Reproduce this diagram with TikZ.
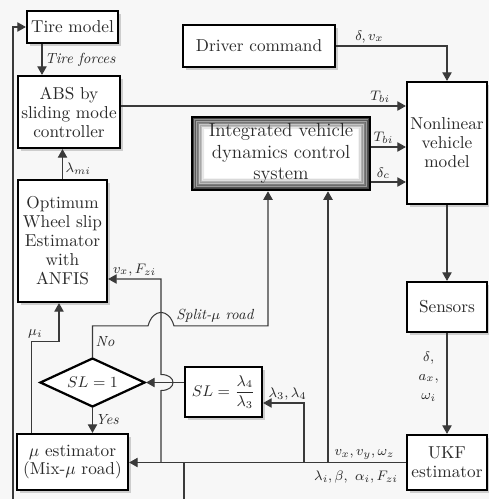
\documentclass[tikz,border=0pt]{standalone}
\usepackage{amsmath}
\usepackage{tikz}
\usetikzlibrary{arrows.meta, positioning, calc, shapes.geometric, shadows}
\definecolor{canvasgray}{HTML}{F7F7F7}
\definecolor{inkgray}{HTML}{2A2A2A}
\definecolor{wiregray}{HTML}{3A3A3A}
\newcommand{\pxu}{0.58pt}

\tikzset{
  blockbox/.style={draw=black, line width=1.3pt, fill=white, align=center, inner sep=1pt,
    text=inkgray, font=\fontsize{10}{11}\selectfont,
    drop shadow={shadow xshift=1.5pt, shadow yshift=-1.5pt, opacity=0.35}},
  glowbox/.style={draw=black, line width=1.5pt, fill=white, align=center, inner sep=1pt,
    text=inkgray, font=\fontsize{11}{12.6}\selectfont,
    path picture={
      \foreach \k [evaluate=\k as \op using 0.55-0.027*\k] in {1,...,20}
        \draw[black, opacity=\op, line width=0.38pt]
          ([xshift=\k*0.35pt, yshift=\k*0.35pt]path picture bounding box.south west) rectangle
          ([xshift=-\k*0.35pt, yshift=-\k*0.35pt]path picture bounding box.north east);
    }},
  decision/.style={diamond, draw=black, line width=1.3pt, fill=white, inner sep=0pt, aspect=2.1,
    text=inkgray, font=\small},
  lbl/.style={font=\fontsize{8.5}{11}\selectfont, text=inkgray, inner sep=1.5pt},
  wire/.style={draw=wiregray, line width=0.6pt},
  arr/.style={wire, -{Triangle[length=5pt, width=5.5pt]}}
}

\begin{document}
\begin{tikzpicture}[x=\pxu, y=-\pxu]
    \useasboundingbox (0,0) rectangle (489,499);
    \fill[canvasgray] (0,0) rectangle (489,499);

    % Blocks
    \node[blockbox, minimum width=91*\pxu, minimum height=32*\pxu] (tire) at (72.5,27) {Tire model};
    \node[blockbox, minimum width=102*\pxu, minimum height=72*\pxu] (abs) at (69,112) {ABS by\\sliding mode\\controller};
    \node[blockbox, minimum width=89*\pxu, minimum height=122*\pxu] (optimum) at (62.5,241) {Optimum\\Wheel slip\\Estimator\\with\\ANFIS};
    \node[blockbox, minimum width=152*\pxu, minimum height=42*\pxu] (driver) at (259,46) {Driver command};
    \node[blockbox, minimum width=80*\pxu, minimum height=122*\pxu] (nonlin) at (447,143) {Nonlinear\\vehicle\\model};
    \node[glowbox, minimum width=178*\pxu, minimum height=73*\pxu] (integ) at (281,153.5) {Integrated vehicle\\dynamics control\\system};
    \node[blockbox, minimum width=80*\pxu, minimum height=50*\pxu] (sensors) at (447,307) {Sensors};
    \node[blockbox, minimum width=80*\pxu, minimum height=55*\pxu] (ukf) at (447,462.5) {UKF\\estimator};
    \node[blockbox, minimum width=111*\pxu, minimum height=56*\pxu] (muest) at (72.5,462) {$\mu$ estimator\\(Mix-$\mu$ road)};
    \node[decision, minimum width=105*\pxu, minimum height=49*\pxu] (decide) at (92.5,382.5) {$SL=1$};
    \node[blockbox, font=\small, minimum width=77*\pxu, minimum height=50*\pxu] (slbox) at (223.5,392) {$SL=\dfrac{\lambda_4}{\lambda_3}$};

    % Branch points on the UKF bus
    \coordinate (lbot) at (13,499);
    \coordinate (xslip) at (161,0);
    \coordinate (xdown) at (184,0);
    \coordinate (xsl) at (304,0);
    \coordinate (xint) at (328,0);

    % Left column
    \draw[arr] (lbot) |- (tire.west);
    \draw[arr] ($(tire.south)+(-30.5,0)$) coordinate (tf) -- node[lbl, right] {\textit{Tire forces}} (tf |- abs.north);
    \draw[arr] (optimum.north) -- node[lbl, right, pos=0.35] {$\lambda_{mi}$} (optimum.north |- abs.south);
    \draw[arr] ($(muest.north west)+(16,0)$) |- node[lbl, above, pos=0.5, xshift=2pt] {$\mu_i$} ($(optimum.south)+(-3.5,38)$) coordinate (mb) -- (mb |- optimum.south);

    % Into the vehicle model
    \draw[arr] (driver.east) -| node[lbl, above, pos=0.15] {$\delta,v_x$} (nonlin.north);
    \draw[arr] ($(abs.east)+(0,-6)$) coordinate (ab) -- node[lbl, above, pos=0.91] {$T_{bi}$} (ab -| nonlin.west);
    \draw[arr] ($(integ.east)+(0,-6.5)$) coordinate (ia) -- node[lbl, above, pos=0.35] {$T_{bi}$} (ia -| nonlin.west);
    \draw[arr] ($(integ.east)+(0,28.5)$) coordinate (ib) -- node[lbl, above, pos=0.35] {$\delta_c$} (ib -| nonlin.west);

    % Measurement chain
    \draw[arr] (nonlin.south) -- (sensors.north);
    \draw[arr] (sensors.south) -- node[lbl, left, align=center, pos=0.43, xshift=-3pt] {$\delta$,\\$a_x$,\\$\omega_i$} (ukf.north);

    % UKF bus
    \draw[arr] (ukf.west) -- node[lbl, above, pos=0.15] {$v_x,v_y,\omega_z$} node[lbl, below, pos=0.18, yshift=-3pt] {$\lambda_i,\beta,\ \alpha_i,F_{zi}$} (ukf.west -| muest.east);
    \draw[arr] (xslip |- ukf.west) -- ($(xslip |- decide.east)+(0,8)$) .. controls +(16,0) and +(16,0) .. ($(xslip |- decide.east)+(0,-8)$) |- node[lbl, above, pos=0.75] {$v_x,F_{zi}$} ($(optimum.east)+(0,38)$);
    \draw[wire] (xdown |- ukf.west) -- (xdown |- lbot);
    \draw[arr] (xsl |- ukf.west) |- node[lbl, above, pos=0.7] {$\lambda_3,\lambda_4$} ($(slbox.east)+(0,11)$);
    \draw[arr] (xint |- ukf.west) -- (xint |- integ.south);

    % Split / mix decision
    \draw[arr] (slbox.west |- decide.east) -- (decide.east);
    \draw[arr] (decide.south) -- node[lbl, right, pos=0.45] {\textit{Yes}} (decide.south |- muest.north);
    \draw[arr] (decide.north) -- node[lbl, right] {\textit{No}} ++(0,-31) coordinate (sp) -- ($(xslip |- sp)+(-13,0)$) .. controls +(5,-18) and +(-5,-18) .. ($(xslip |- sp)+(13,0)$) -| node[lbl, above, pos=0.22] {\textit{Split-$\mu$ road}} ($(integ.south)+(-13,0)$);
\end{tikzpicture}
\end{document}
